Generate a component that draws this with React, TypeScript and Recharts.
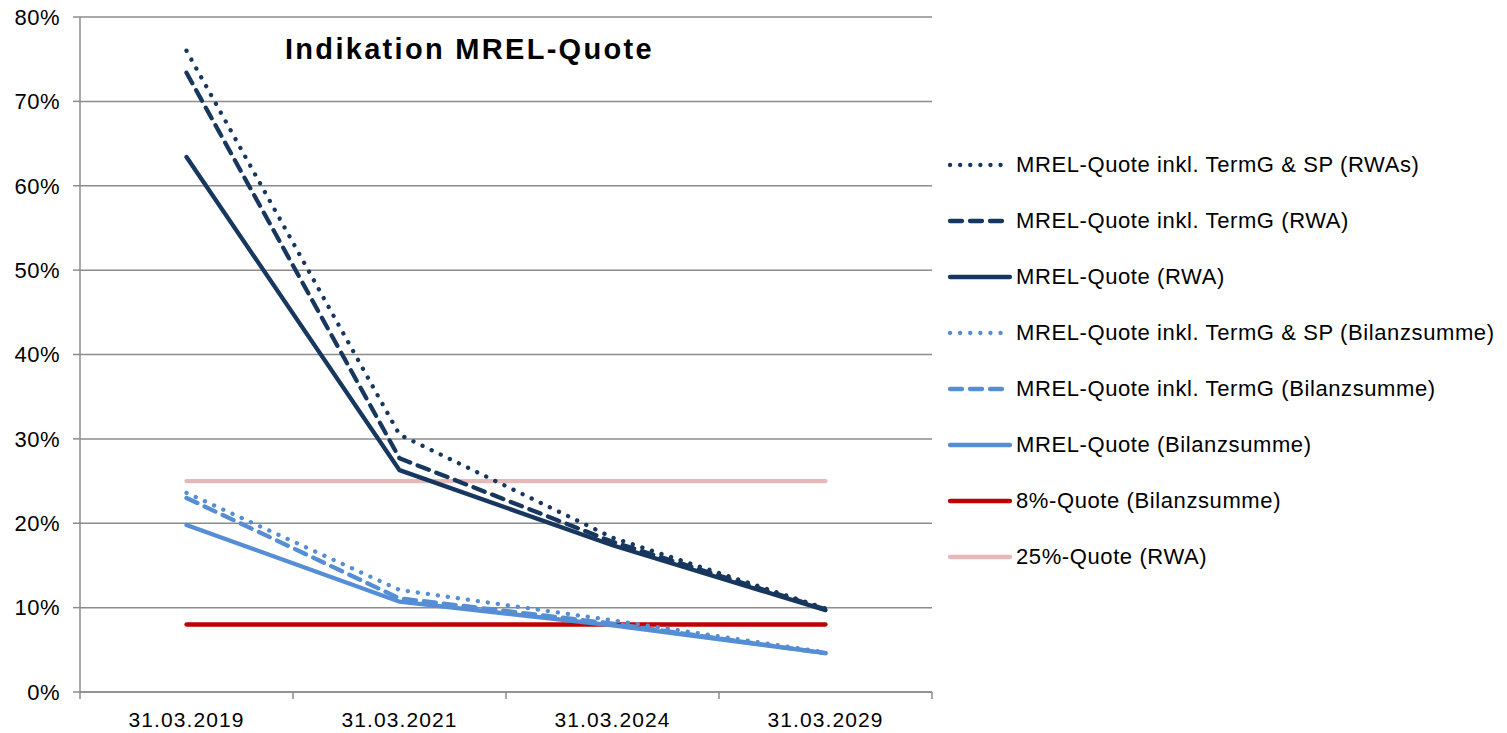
import { LineChart, Line, XAxis, YAxis, CartesianGrid } from 'recharts'

const categories = ['31.03.2019', '31.03.2021', '31.03.2024', '31.03.2029']

const termGSpRwa = [0.76, 0.305, 0.183, 0.099]
const termGRwa = [0.734, 0.277, 0.178, 0.098]
const mrelRwa = [0.634, 0.263, 0.174, 0.097]
const termGSpBilanz = [0.236, 0.121, 0.085, 0.047]
const termGBilanz = [0.23, 0.111, 0.081, 0.046]
const mrelBilanz = [0.198, 0.107, 0.079, 0.046]
const quote8 = [0.08, 0.08, 0.08, 0.08]
const quote25 = [0.25, 0.25, 0.25, 0.25]

const yTicks = [0, 0.1, 0.2, 0.3, 0.4, 0.5, 0.6, 0.7, 0.8]

const DARK = '#17375e'
const LIGHT = '#558ed5'
const RED = '#c00000'
const PINK = '#e6b9b8'
const GRID = '#8c8c8c'

type Series = {
  key: string
  name: string
  values: number[]
  color: string
  dash?: string
}

const series: Series[] = [
  { key: 's1', name: 'MREL-Quote inkl. TermG & SP (RWAs)', values: termGSpRwa, color: DARK, dash: '0.1 10' },
  { key: 's2', name: 'MREL-Quote inkl. TermG (RWA)', values: termGRwa, color: DARK, dash: '12 8' },
  { key: 's3', name: 'MREL-Quote (RWA)', values: mrelRwa, color: DARK },
  { key: 's4', name: 'MREL-Quote inkl. TermG & SP (Bilanzsumme)', values: termGSpBilanz, color: LIGHT, dash: '0.1 10' },
  { key: 's5', name: 'MREL-Quote inkl. TermG (Bilanzsumme)', values: termGBilanz, color: LIGHT, dash: '12 8' },
  { key: 's6', name: 'MREL-Quote (Bilanzsumme)', values: mrelBilanz, color: LIGHT },
  { key: 's7', name: '8%-Quote (Bilanzsumme)', values: quote8, color: RED },
  { key: 's8', name: '25%-Quote (RWA)', values: quote25, color: PINK },
]

const data = categories.map((c, i) => {
  const row: Record<string, number | string> = { x: i + 0.5, label: c }
  series.forEach((s) => {
    row[s.key] = s.values[i]
  })
  return row
})

const BAND = 213
const FONT = 'Arial, "Liberation Sans", sans-serif'

function XTick(props: any) {
  const { x, y, payload } = props
  const i = payload.value
  if (i >= categories.length) return null
  return (
    <text
      x={x + BAND / 2}
      y={y + 11}
      dy="0.71em"
      textAnchor="middle"
      fontSize={21}
      fontFamily={FONT}
      fill="#000"
      letterSpacing={1.1}
    >
      {categories[i]}
    </text>
  )
}

// draw order: reference lines underneath
const drawOrder = ['s8', 's7', 's6', 's5', 's4', 's3', 's2', 's1']

export default function App() {
  return (
    <div
      style={{
        position: 'relative',
        width: 1507,
        height: 733,
        margin: '-8px 0 0 -8px',
        fontFamily: FONT,
      }}
    >
      <LineChart
        width={1507}
        height={733}
        data={data}
        margin={{ top: 17, right: 575, left: 0, bottom: 5 }}
      >
        <CartesianGrid horizontal vertical={false} stroke={GRID} strokeWidth={1.5} />
        <XAxis
          dataKey="x"
          type="number"
          domain={[0, 4]}
          ticks={[0, 1, 2, 3, 4]}
          interval={0}
          height={36}
          tickSize={7}
          stroke={GRID}
          strokeWidth={1.5}
          tick={<XTick />}
        />
        <YAxis
          type="number"
          domain={[0, 0.8]}
          ticks={yTicks}
          interval={0}
          width={80}
          tickSize={7}
          tickMargin={13}
          stroke={GRID}
          strokeWidth={1.5}
          tickFormatter={(v: number) => `${Math.round(v * 100)}%`}
          tick={{ fill: '#000', fontSize: 22, fontFamily: FONT, letterSpacing: 0.5 }}
        />
        {drawOrder.map((k) => {
          const s = series.find((t) => t.key === k)!
          return (
            <Line
              key={s.key}
              type="linear"
              dataKey={s.key}
              name={s.name}
              stroke={s.color}
              strokeWidth={4.3}
              strokeDasharray={s.dash}
              strokeLinecap="round"
              dot={false}
              activeDot={false}
              isAnimationActive={false}
            />
          )
        })}
      </LineChart>

      <div
        style={{
          position: 'absolute',
          left: 285,
          top: 33,
          fontSize: 29,
          fontWeight: 'bold',
          letterSpacing: 2.3,
          color: '#000',
          whiteSpace: 'nowrap',
        }}
      >
        Indikation MREL-Quote
      </div>

      <div style={{ position: 'absolute', left: 944, top: 137 }}>
        {series.map((s) => (
          <div key={s.key} style={{ display: 'flex', alignItems: 'center', height: 56 }}>
            <svg width={72} height={10}>
              <line
                x1={6}
                y1={5}
                x2={66}
                y2={5}
                stroke={s.color}
                strokeWidth={4.3}
                strokeDasharray={s.dash}
                strokeLinecap="round"
              />
            </svg>
            <span style={{ fontSize: 22, letterSpacing: 0.6, color: '#000', whiteSpace: 'nowrap' }}>
              {s.name}
            </span>
          </div>
        ))}
      </div>
    </div>
  )
}
